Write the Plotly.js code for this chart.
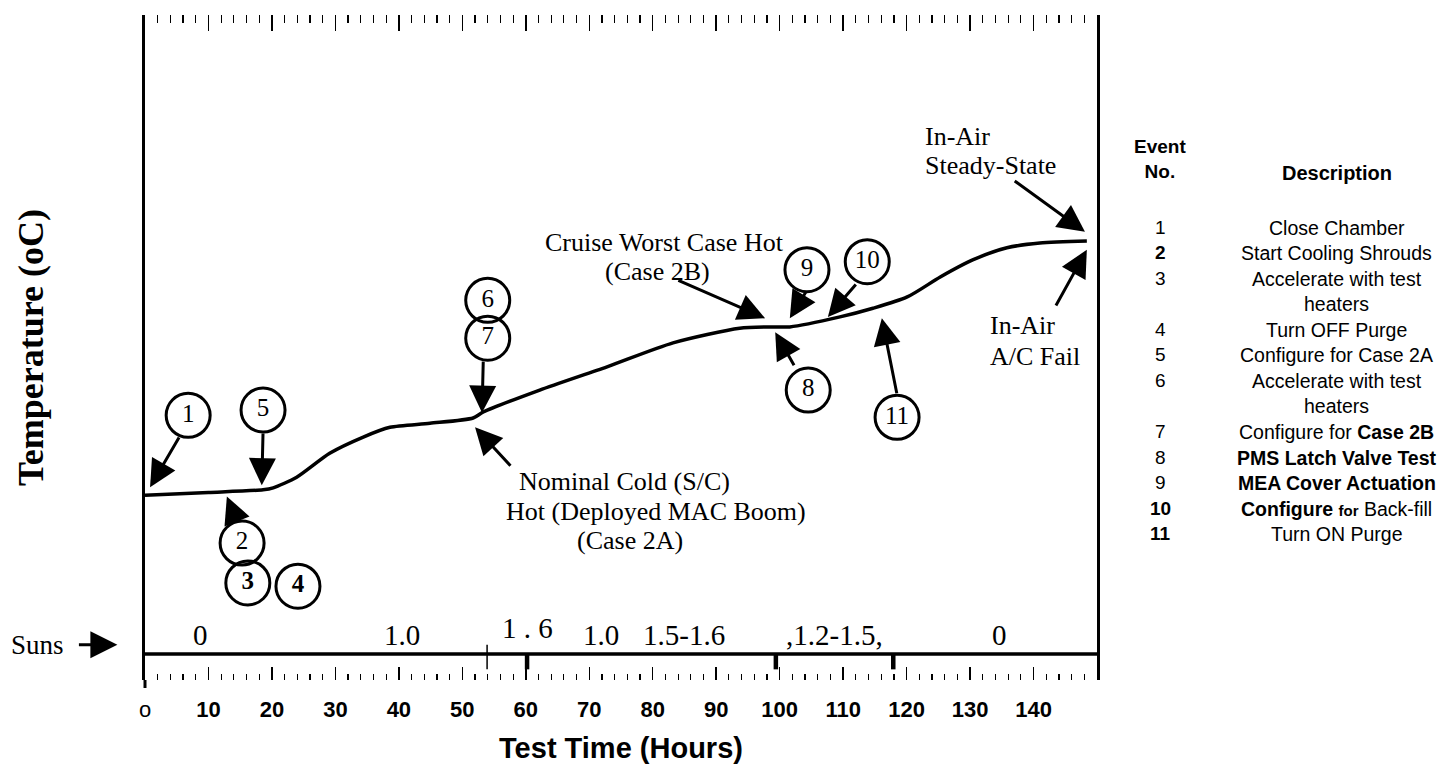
<!DOCTYPE html>
<html>
<head>
<meta charset="utf-8">
<script src="https://cdn.plot.ly/plotly-3.0.1.min.js"></script>
<style>
  html, body { margin: 0; padding: 0; background: #fff; }
  #chart { width: 1454px; height: 777px; }
</style>
</head>
<body>
<div id="chart"></div>
<script>
// Temperature profile over the thermal-vacuum test (arbitrary temperature scale)
const hours       = [0, 10, 18.6, 20.2, 23.9, 29.1, 34.3, 38.6, 44.9, 51.7, 53.3, 62.2, 72.8, 83.2, 93.7, 98.9, 101.6, 109.5, 114.7, 120.1, 125.3, 130.5, 135.8, 141.0, 148.4];
const temperature = [27.8, 28.2, 28.6, 28.9, 30.5, 34.1, 36.5, 38.0, 38.6, 39.4, 40.3, 43.6, 47.1, 50.7, 52.9, 53.1, 53.1, 54.6, 55.9, 57.6, 60.6, 63.2, 65.0, 65.7, 66.0];

// Solar intensity (suns) along the time line
const sunsTime   = [8.7, 40.5, 60.2, 71.8, 85.0, 108.7, 134.7];
const sunsLabel  = ['0', '1.0', '1 . 6', '1.0', '1.5-1.6', ',1.2-1.5,', '0'];
const sunsBreaks = [53.9, 60.2, 99.4, 117.9];

// X axis ticks
const tickHours = [0, 10, 20, 30, 40, 50, 60, 70, 80, 90, 100, 110, 120, 130, 140];
const tickText  = ['o', '10', '20', '30', '40', '50', '60', '70', '80', '90', '100', '110', '120', '130', '140'];

// Test events
const eventNo   = ['1', '2', '3', '4', '5', '6', '7', '8', '9', '10', '11'];
const eventDesc = [
  'Close Chamber',
  'Start Cooling Shrouds',
  'Accelerate with test<br>heaters',
  'Turn OFF Purge',
  'Configure for Case 2A',
  'Accelerate with test<br>heaters',
  'Configure for <b>Case 2B</b>',
  '<b>PMS Latch Valve Test</b>',
  '<b>MEA Cover Actuation</b>',
  '<b>Configure</b> <b><span style="font-size:15px">for</span></b> Back-fill',
  'Turn ON Purge'
];
const boldNo = ['2', '10', '11'];

// Where each numbered callout bubble sits (hours, temperature units)
const calloutPos = {
  '1': [6.8, 39.8], '2': [15.3, 20.6], '3': [16.2, 14.6], '4': [24.1, 14.1],
  '5': [18.6, 40.6], '6': [54.0, 57.1], '7': [54.0, 51.4], '8': [104.5, 43.6],
  '9': [104.3, 61.7], '10': [113.8, 62.9], '11': [118.5, 39.5]
};
// Arrows from a bubble (tail) to the point on the curve (head)
const calloutArrows = [
  { tail: [5.5, 36.7],   head: [0.8, 29.0] },
  { tail: [18.6, 37.3],  head: [18.4, 29.3] },
  { tail: [14.6, 23.6],  head: [12.9, 27.6] },
  { tail: [53.3, 48.1],  head: [53.1, 40.2] },
  { tail: [102.4, 47.1], head: [99.3, 52.3] },
  { tail: [104.3, 58.6], head: [101.6, 54.4] },
  { tail: [112.2, 59.7], head: [107.6, 54.6] },
  { tail: [118.5, 42.9], head: [116.1, 54.4] },
  // condition call-outs
  { tail: [83.8, 60.2],  head: [97.7, 54.4] },
  { tail: [57.8, 32.0],  head: [52.0, 38.0] },
  { tail: [136.8, 75.2], head: [148.1, 67.4] },
  { tail: [143.4, 56.1], head: [148.4, 64.7] }
];

const SERIF = 'Liberation Serif, Times New Roman, serif';
const SANS  = 'Liberation Sans, Arial, sans-serif';

const traces = [
  {
    x: hours, y: temperature, type: 'scatter', mode: 'lines',
    line: { color: '#000', width: 3.5, shape: 'spline', smoothing: 0.7 },
    hoverinfo: 'skip', showlegend: false
  },
  {
    x: eventNo.map(n => calloutPos[n][0]),
    y: eventNo.map(n => calloutPos[n][1]),
    text: eventNo.map(n => (n === '3' || n === '4') ? '<b>' + n + '</b>' : n),
    type: 'scatter', mode: 'markers+text', textposition: 'middle center',
    textfont: { family: SERIF, size: 25, color: '#000' },
    marker: { symbol: 'circle-open', size: 44, color: '#000', line: { width: 3, color: '#000' } },
    hoverinfo: 'skip', showlegend: false
  }
];

const annotations = [];

// Arrows
calloutArrows.forEach(a => {
  annotations.push({
    x: a.head[0], y: a.head[1], ax: a.tail[0], ay: a.tail[1],
    xref: 'x', yref: 'y', axref: 'x', ayref: 'y',
    text: '', showarrow: true, arrowhead: 2, arrowsize: 1.8, arrowwidth: 3,
    arrowcolor: '#000', standoff: 0, startstandoff: 0
  });
});

// Condition labels
function serifLabel(x, y, text, xanchor) {
  annotations.push({
    x: x, y: y, xref: 'x', yref: 'y', text: text, showarrow: false,
    xanchor: xanchor || 'center', yanchor: 'middle',
    font: { family: SERIF, size: 26, color: '#000' }
  });
}
serifLabel(81.8, 65.8, 'Cruise Worst Case Hot');
serifLabel(80.7, 61.5, '(Case 2B)');
serifLabel(58.6, 29.8, 'Nominal Cold (S/C)', 'left');
serifLabel(56.6, 25.3, 'Hot (Deployed MAC Boom)', 'left');
serifLabel(76.4, 21.0, '(Case 2A)');
serifLabel(122.6, 81.8, 'In-Air', 'left');
serifLabel(122.6, 77.4, 'Steady-State', 'left');
serifLabel(132.8, 53.3, 'In-Air', 'left');
serifLabel(132.8, 48.6, 'A/C Fail', 'left');

// Suns values
sunsLabel.forEach((s, i) => {
  annotations.push({
    x: sunsTime[i], y: 6.8, xref: 'x', yref: 'y', text: s, showarrow: false,
    xanchor: 'center', yshift: s === '1 . 6' ? 7 : 0,
    font: { family: SERIF, size: 29, color: '#000' }
  });
});
annotations.push({
  x: -0.113, y: 5.3, xref: 'paper', yref: 'y', text: 'Suns', showarrow: false,
  xanchor: 'center', font: { family: SERIF, size: 27, color: '#000' }
});
annotations.push({
  x: -0.029, y: 5.3, ax: -0.071, ay: 5.3, xref: 'paper', yref: 'y', axref: 'paper', ayref: 'y',
  text: '', showarrow: true, arrowhead: 2, arrowsize: 1.8, arrowwidth: 3, arrowcolor: '#000', standoff: 0
});

// Event table
const colNo = 1.0662, colDesc = 1.2521;
annotations.push({
  x: colNo, y: (680 - 134) / 665, xref: 'paper', yref: 'paper', xanchor: 'center', yanchor: 'top',
  text: '<b>Event<br>No.</b>', showarrow: false, font: { family: SANS, size: 19, color: '#000' }
});
annotations.push({
  x: colDesc, y: (680 - 160) / 665, xref: 'paper', yref: 'paper', xanchor: 'center', yanchor: 'top',
  text: '<b>Description</b>', showarrow: false, font: { family: SANS, size: 20, color: '#000' }
});
let row = 0;
const rowTop = 215, rowStep = 25.5;
eventNo.forEach((n, i) => {
  const yTop = (680 - (rowTop + row * rowStep)) / 665;
  annotations.push({
    x: colNo, y: yTop, xref: 'paper', yref: 'paper', xanchor: 'center', yanchor: 'top',
    text: boldNo.includes(n) ? '<b>' + n + '</b>' : n, showarrow: false,
    font: { family: SANS, size: 19, color: '#000' }
  });
  annotations.push({
    x: colDesc, y: yTop, xref: 'paper', yref: 'paper', xanchor: 'center', yanchor: 'top',
    text: eventDesc[i], showarrow: false, align: 'center',
    font: { family: SANS, size: 19.5, color: '#000' }
  });
  row += eventDesc[i].split('<br>').length;
});

// Suns time line and its transition marks
const shapes = [
  { type: 'line', xref: 'paper', yref: 'y', x0: 0, x1: 1, y0: 3.9, y1: 3.9, line: { color: '#000', width: 3.5 } },
  { type: 'line', xref: 'paper', yref: 'paper', x0: 0, x1: 0, y0: 0, y1: -0.012, line: { color: '#000', width: 3 } }
];
sunsBreaks.forEach((t, i) => {
  shapes.push({
    type: 'line', xref: 'x', yref: 'y', x0: t, x1: t,
    y0: i === 0 ? 5.3 : 4.0, y1: 1.6,
    line: { color: '#000', width: i === 0 ? 1.5 : 4.5 }
  });
});

const layout = {
  width: 1454, height: 777,
  margin: { l: 145, r: 357, t: 15, b: 97 },
  paper_bgcolor: '#fff', plot_bgcolor: '#fff',
  showlegend: false,
  xaxis: {
    range: [0, 150], showgrid: false, zeroline: false, showline: false,
    tickmode: 'array', tickvals: tickHours, ticktext: tickText.map((t, i) => i === 0 ? t : '<b>' + t + '</b>'),
    ticks: 'inside', ticklen: 13, tickwidth: 1.5, tickcolor: '#000',
    minor: { ticks: 'inside', tick0: 0, dtick: 2, ticklen: 6, tickwidth: 1.2, tickcolor: '#000' },
    ticklabelstandoff: 14,
    tickfont: { family: SANS, size: 22, color: '#000' },
    title: { text: '<b>Test Time (Hours)</b>', font: { family: SANS, size: 29, color: '#000' }, standoff: 16 }
  },
  xaxis2: {
    overlaying: 'x', matches: 'x', side: 'top', range: [0, 150],
    showgrid: false, zeroline: false, showline: false, showticklabels: false,
    tickmode: 'linear', tick0: 0, dtick: 10,
    ticks: 'inside', ticklen: 16, tickwidth: 1.5, tickcolor: '#000',
    minor: { ticks: 'inside', tick0: 0, dtick: 2, ticklen: 8, tickwidth: 1.2, tickcolor: '#000' }
  },
  yaxis: {
    range: [0, 100], showgrid: false, zeroline: false, showticklabels: false, ticks: '',
    showline: true, linewidth: 3, linecolor: '#000', mirror: true,
    title: { text: '<b>Temperature (oC)</b>', font: { family: SERIF, size: 36, color: '#000' }, standoff: 88 }
  },
  annotations: annotations,
  shapes: shapes
};

// empty trace that brings up the top tick row
traces.push({ x: [0, 150], y: [null, null], xaxis: 'x2', yaxis: 'y', type: 'scatter', mode: 'lines', hoverinfo: 'skip', showlegend: false });

Plotly.newPlot('chart', traces, layout, { staticPlot: true, displayModeBar: false });
</script>
</body>
</html>
